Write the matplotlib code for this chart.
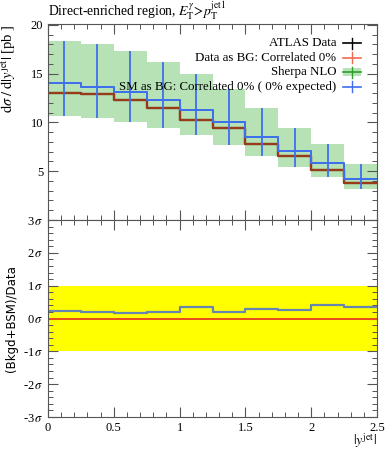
import numpy as np
import matplotlib
matplotlib.use("Agg")
import matplotlib.pyplot as plt
from matplotlib.ticker import MultipleLocator, FixedLocator, NullFormatter

plt.rcParams['font.family'] = ['Liberation Serif', 'DejaVu Serif']
plt.rcParams['mathtext.fontset'] = 'stix'
plt.rcParams['font.size'] = 9

# ---- data ----
bin_edges = [0.0, 0.25, 0.5, 0.75, 1.0, 1.25, 1.5, 1.75, 2.0, 2.25, 2.5]
data_vals = [13.05, 12.88, 12.3, 11.46, 10.24, 9.44, 7.81, 6.54, 5.1, 3.81]
sm_vals = [14.0, 13.68, 13.1, 12.3, 11.28, 10.06, 8.55, 7.11, 5.83, 4.23]
band_low = [10.7, 10.5, 10.06, 9.4, 8.68, 7.71, 6.52, 5.45, 4.41, 3.23]
band_high = [18.4, 18.05, 17.3, 16.2, 14.95, 13.44, 11.46, 9.48, 7.81, 5.79]
ratio_sig = [0.24, 0.19, 0.18, 0.21, 0.35, 0.21, 0.28, 0.26, 0.40, 0.35]

edges = np.array(bin_edges)
centers = 0.5 * (edges[:-1] + edges[1:])

def stepv(v):
    return np.append(v, v[-1])

W, H = 389, 450
fig = plt.figure(figsize=(W / 100, H / 100), dpi=100)
L, R = 48 / W, 377 / W
top_u, mid, bot = 1 - 24 / H, 1 - 220 / H, 1 - 417 / H
ax = fig.add_axes([L, mid, R - L, top_u - mid])
axr = fig.add_axes([L, bot, R - L, mid - bot])

blue = '#3f6ff0'
green_band = '#b6e2b6'
green_line = '#2ca02c'
orange = '#ee5a22'
framec = '#555555'

# ---- upper panel ----
ax.fill_between(edges, stepv(band_low), stepv(band_high), step='post',
                color=green_band, lw=0)
ax.step(edges, stepv(sm_vals), where='post', color=green_line, lw=1.2)
ax.step(edges, stepv(data_vals), where='post', color='black', lw=1.6)
ax.step(edges, stepv(data_vals), where='post', color=orange, lw=1.6, alpha=0.65)
ax.step(edges, stepv(sm_vals), where='post', color=blue, lw=1.4)
ax.vlines(centers, band_low, band_high, color=blue, lw=1.3)

ax.set_xlim(0, 2.5)
ax.set_ylim(0, 20.1)
ax.yaxis.set_major_locator(FixedLocator([5, 10, 15, 20]))
ax.yaxis.set_minor_locator(MultipleLocator(1))
ax.xaxis.set_major_locator(MultipleLocator(0.5))
ax.xaxis.set_minor_locator(MultipleLocator(0.1))
ax.xaxis.set_major_formatter(NullFormatter())
ax.set_ylabel(r'$\mathrm{d}\sigma\;/\;\mathrm{d}|y^{\mathrm{jet}}|$ [pb ]', loc='top', fontsize=10.5)

# legend (manual, right aligned)
leg_labels = ['ATLAS Data', 'Data as BG: Correlated 0%', 'Sherpa NLO',
              'SM as BG: Correlated 0% ( 0% expected)']
leg_colors = ['black', '#f06a50', green_line, blue]
ys = [0.903, 0.829, 0.755, 0.679]
for i, (lab, c, yy) in enumerate(zip(leg_labels, leg_colors, ys)):
    ax.text(0.876, yy, lab, transform=ax.transAxes, ha='right', va='center', fontsize=9.3)
    if i == 2:
        ax.fill_between([0.897, 0.952], yy - 0.022, yy + 0.022, transform=ax.transAxes,
                        color=green_band, lw=0)
    ax.plot([0.897, 0.952], [yy, yy], transform=ax.transAxes, color=c, lw=1.2)
    ax.plot([0.9245, 0.9245], [yy - 0.028, yy + 0.028], transform=ax.transAxes, color=c, lw=1.0)

fig.text(L, 1 - 11 / H, r'Direct-enriched region, $E_{\mathrm{T}}^{\gamma}\!>\!p_{\mathrm{T}}^{\mathrm{jet1}}$',
         ha='left', va='center', fontsize=9.8)

# ---- ratio panel ----
axr.axhspan(-1, 1, color='#ffff00', lw=0)
axr.axhline(0, color='black', lw=1.4)
axr.axhline(0, color='#ff5a1e', lw=1.3)
axr.step(edges, stepv(ratio_sig), where='post', color='#6686b0', lw=1.6)
axr.set_xlim(0, 2.5)
axr.set_ylim(-3, 3)
axr.yaxis.set_minor_locator(MultipleLocator(0.2))
axr.set_yticks([-3, -2, -1, 0, 1, 2, 3])
axr.set_yticklabels([r'-3$\,\sigma$', r'-2$\,\sigma$', r'-1$\,\sigma$', r'0$\,\sigma$',
                     r'1$\,\sigma$', r'2$\,\sigma$', r'3$\,\sigma$'])
axr.xaxis.set_minor_locator(MultipleLocator(0.1))
axr.set_xticks([0, 0.5, 1, 1.5, 2, 2.5])
axr.set_xticklabels(['0', '0.5', '1', '1.5', '2', '2.5'])
axr.set_ylabel('(Bkgd+BSM)/Data', family=['DejaVu Sans'], fontsize=8.5)
fig.text(R, 1 - 441 / H, r'$|y^{\mathrm{jet}}|$', ha='right', va='center', fontsize=10)

for a in (ax, axr):
    a.tick_params(which='both', direction='in', top=True, right=True, color=framec, labelsize=9)
    a.tick_params(which='major', length=7, width=0.8)
    a.tick_params(which='minor', length=3.5, width=0.7)
    for s in a.spines.values():
        s.set_color(framec)
        s.set_linewidth(0.8)
ax.yaxis.set_label_coords(-0.09, 1.0)
axr.yaxis.set_label_coords(-0.09, 0.5)

fig.savefig('out.png', dpi=100)
